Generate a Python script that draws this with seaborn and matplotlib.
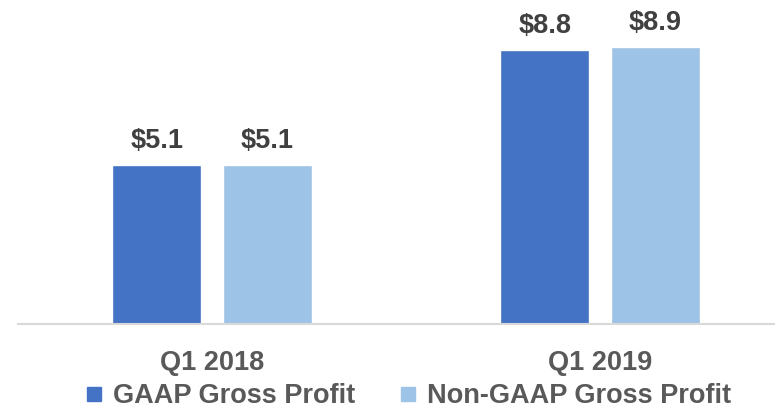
import matplotlib
matplotlib.use("Agg")
import matplotlib.pyplot as plt
import seaborn as sns
import pandas as pd
from matplotlib.lines import Line2D

categories = ["Q1 2018", "Q1 2019"]
series_names = ["GAAP Gross Profit", "Non-GAAP Gross Profit"]
gaap_values = [5.1, 8.8]
non_gaap_values = [5.1, 8.9]
colors = ["#4472C4", "#9DC3E6"]

rows = []
for c, g, n in zip(categories, gaap_values, non_gaap_values):
    rows.append({"period": c, "series": series_names[0], "value": g})
    rows.append({"period": c, "series": series_names[1], "value": n})
df = pd.DataFrame(rows)

sns.set_theme(style="white")
plt.rcParams["font.family"] = ["Liberation Sans", "DejaVu Sans"]

fig = plt.figure(figsize=(7.75, 4.11), dpi=100)
W, H = 775, 411
ax = fig.add_axes([18 / W, 87 / H, (775 - 18) / W, 324 / H])

sns.barplot(data=df, x="period", y="value", hue="series", order=categories,
            hue_order=series_names, palette=colors, width=0.57, gap=0.19,
            saturation=1, ax=ax, legend=False)

ax.set_xlim(-0.5, (775 - 18) / 388 - 0.5)
ax.set_ylim(0, 324 / 31.15)

for cont in ax.containers:
    vals = [p.get_height() for p in cont]
    ax.bar_label(cont, labels=[f"${v:.1f}" for v in vals], padding=8,
                 fontsize=19.5, fontweight="bold", color="#404040")

for s in ["top", "right", "left"]:
    ax.spines[s].set_visible(False)
ax.spines["bottom"].set_color("#D9D9D9")
ax.spines["bottom"].set_linewidth(1.5)
ax.set_yticks([])
ax.set_xlabel("")
ax.set_ylabel("")
ax.tick_params(axis="x", length=0, pad=19, labelsize=19.5, labelcolor="#595959")
for t in ax.get_xticklabels():
    t.set_fontweight("bold")

handles = [Line2D([0], [0], marker="s", linestyle="none", markersize=9.5,
                  markerfacecolor=col, markeredgecolor=col) for col in colors]
leg = fig.legend(handles, series_names, loc="center", bbox_to_anchor=(409 / W, 1 - 396 / H),
                 ncol=2, frameon=False, handlelength=0.5, handletextpad=0.45,
                 columnspacing=1.7, borderaxespad=0, borderpad=0,
                 prop={"size": 19.5, "weight": "bold"})
for t in leg.get_texts():
    t.set_color("#595959")

fig.savefig("out.png", dpi=100)
